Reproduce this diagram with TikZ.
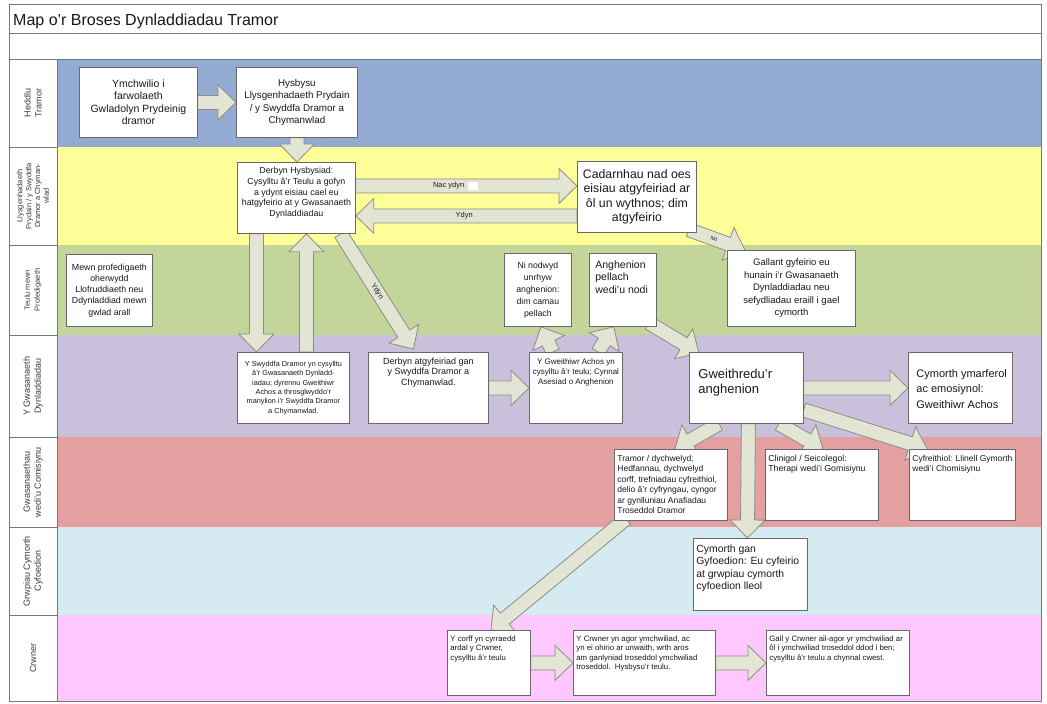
\documentclass[tikz,border=0pt]{standalone}
\usepackage{fontspec}
\setmainfont{Liberation Sans}
\usetikzlibrary{calc}
\pgfdeclarelayer{bg}
\pgfdeclarelayer{arr}
\pgfsetlayers{bg,arr,main}
\definecolor{laneblue}{RGB}{147,171,210}
\definecolor{laneyellow}{RGB}{255,255,153}
\definecolor{lanegreen}{RGB}{195,213,155}
\definecolor{lanelav}{RGB}{203,192,220}
\definecolor{lanered}{RGB}{228,160,160}
\definecolor{lanecyan}{RGB}{214,234,241}
\definecolor{lanepink}{RGB}{255,199,255}
\definecolor{framegray}{RGB}{120,120,120}
\definecolor{boxline}{RGB}{105,105,105}
\definecolor{arrfill}{RGB}{226,229,212}
\definecolor{arrline}{RGB}{140,142,128}
\definecolor{txt}{RGB}{25,25,25}
\newcommand\fs[2]{\fontsize{#1}{#2}\selectfont}
\newcommand\bt[5]{\parbox[c][#2][#3]{#1}{#4#5}}
\newcommand\barr[2]{%
  \coordinate (baS) at #1;
  \coordinate (baE) at #2;
  \coordinate (baP) at ($(baE)!18pt!(baS)$);
  \draw[blockarrow] ($(baS)!7pt!90:(baE)$) -- ($(baP)!7pt!90:(baE)$) -- ($(baP)!17.5pt!90:(baE)$) -- (baE) -- ($(baP)!17.5pt!-90:(baE)$) -- ($(baP)!7pt!-90:(baE)$) -- ($(baS)!7pt!-90:(baE)$) -- cycle;
}
\begin{document}
\begin{tikzpicture}[x=1pt,y=-1pt,
  box/.style={draw=boxline, line width=0.8pt, fill=white, inner sep=3pt, anchor=north west, text=txt},
  lanelab/.style={rotate=90, align=center, text=txt!85},
  frame/.style={draw=framegray, line width=0.8pt},
  blockarrow/.style={draw=arrline, fill=arrfill, line width=0.8pt, line join=miter},
  alab/.style={font=\fs{7.5}{8}, text=txt, inner sep=1pt}]
\useasboundingbox (0,0) rectangle (1047,704);
\begin{pgfonlayer}{bg}
\fill[white] (0,0) rectangle (1047,704);
\fill[laneblue] (57,59) rectangle (1041,147);
\fill[laneyellow] (57,147) rectangle (1041,245);
\fill[lanegreen] (57,245) rectangle (1041,335);
\fill[lanelav] (57,335) rectangle (1041,437);
\fill[lanered] (57,437) rectangle (1041,527);
\fill[lanecyan] (57,527) rectangle (1041,615);
\fill[lanepink] (57,615) rectangle (1041,701);
\draw[frame] (9,4) rectangle (1041,701);
\draw[frame] (9,33) -- (1041,33);
\draw[frame] (9,59) -- (1041,59);
\draw[frame] (57,59) -- (57,701);
\foreach \yy in {147,245,335,437,527,615} \draw[frame] (9,\yy) -- (57,\yy);
\end{pgfonlayer}

\node[anchor=base west, inner sep=0pt, font=\fs{16}{18}, text=txt] (title) at (13,25) {Map o'r Broses Dynladdiadau Tramor};

\node[lanelab, font=\fs{9}{11}] (lab1) at (33,103) {Heddlu\\Tramor};
\node[lanelab, font=\fs{7.5}{8.8}] (lab2) at (33,196) {Llysgenhadaeth\\Prydain / y Swyddfa\\Dramor a Chyman-\\wlad};
\node[lanelab, font=\fs{7.5}{10}] (lab3) at (33,290) {Teulu mewn\\Profedigaeth};
\node[lanelab, font=\fs{9}{11}] (lab4) at (33,386) {Y Gwasanaeth\\Dynladdiadau};
\node[lanelab, font=\fs{9}{11}] (lab5) at (33,482) {Gwasanaethau\\wedi'u Comisiynu};
\node[lanelab, font=\fs{9}{11}] (lab6) at (33,571) {Grwpiau Cymorth\\Cyfoedion};
\node[lanelab, font=\fs{9}{11}] (lab7) at (33,658) {Crwner};

% lane 1
\node[box, font=\fs{10.5}{12.5}] (A) at (79,67) {\bt{112pt}{64pt}{c}{\centering}{Ymchwilio i\\farwolaeth\\Gwladolyn Prydeinig\\dramor}};
\node[box, font=\fs{9.8}{12.5}] (B) at (236,67) {\bt{115pt}{64pt}{c}{\centering}{Hysbysu\\Llysgenhadaeth Prydain\\/ y Swyddfa Dramor a\\Chymanwlad}};
% lane 2
\node[box, font=\fs{8.8}{10.8}] (C) at (237,162) {\bt{112pt}{65pt}{t}{\centering\rule{0pt}{8pt}}{Derbyn Hysbysiad:\\Cysylltu â'r Teulu a gofyn\\a ydynt eisiau cael eu\\hatgyfeirio at y Gwasanaeth\\Dynladdiadau}};
\node[box, font=\fs{12.3}{14.5}] (D) at (577,161) {\bt{113pt}{65pt}{c}{\centering}{Cadarnhau nad oes\\eisiau atgyfeiriad ar\\ôl un wythnos; dim\\atgyfeirio}};
% lane 3
\node[box, font=\fs{8.8}{11.2}] (E) at (66,254) {\bt{80pt}{66pt}{c}{\centering}{Mewn profedigaeth\\oherwydd\\Llofruddiaeth neu\\Ddynladdiad mewn\\gwlad arall}};
\node[box, font=\fs{9.5}{12.5}] (F) at (727,250) {\bt{122pt}{70pt}{c}{\centering}{Gallant gyfeirio eu\\hunain i'r Gwasanaeth\\Dynladdiadau neu\\sefydliadau eraill i gael\\cymorth}};
\node[box, font=\fs{8.7}{12}] (G) at (504,253) {\bt{61pt}{67pt}{c}{\centering}{Ni nodwyd\\unrhyw\\anghenion:\\dim camau\\pellach}};
\node[box, font=\fs{10.5}{12.5}] (H) at (589,253) {\bt{61pt}{67pt}{t}{\raggedright\leftskip=3pt\rule{0pt}{12pt}}{Anghenion\\pellach\\wedi'u nodi}};
% lane 4
\node[box, font=\fs{7.3}{9.3}] (I) at (237,352) {\bt{106pt}{65pt}{c}{\centering}{Y Swyddfa Dramor yn cysylltu\\â'r Gwasanaeth Dynladd-\\iadau; dyrennu Gweithiwr\\Achos a throsglwyddo'r\\manylion i'r Swyddfa Dramor\\a Chymanwlad.}};
\node[box, font=\fs{9}{10.5}] (J) at (368,352) {\bt{114pt}{65pt}{t}{\centering\rule{0pt}{9pt}}{Derbyn atgyfeiriad gan\\y Swyddfa Dramor a\\Chymanwlad.}};
\node[box, font=\fs{8}{10}, inner xsep=1.5pt] (K) at (529,352) {\bt{90pt}{65pt}{t}{\centering\rule{0pt}{9pt}}{Y Gweithiwr Achos yn\\cysylltu â'r teulu; Cynnal\\Asesiad o Anghenion}};
\node[box, font=\fs{13}{15.5}] (L) at (689,352) {\bt{108pt}{65pt}{t}{\raggedright\leftskip=6pt\rule{0pt}{23pt}}{Gweithredu'r\\anghenion}};
\node[box, font=\fs{11}{15.5}] (M) at (908,352) {\bt{98pt}{65pt}{t}{\raggedright\leftskip=5pt\rule{0pt}{22pt}}{Cymorth ymarferol\\ac emosiynol:\\Gweithiwr Achos}};
% lane 5
\node[box, font=\fs{8.5}{10.5}] (N) at (614,449) {\bt{107pt}{65pt}{t}{\raggedright\rule{0pt}{9pt}}{Tramor / dychwelyd;\\Hedfannau, dychwelyd\\corff, trefniadau cyfreithiol,\\delio â'r cyfryngau, cyngor\\ar gynlluniau Anafiadau\\Troseddol Dramor}};
\node[box, font=\fs{8.7}{10.5}] (O) at (765,449) {\bt{107pt}{65pt}{t}{\raggedright\rule{0pt}{9pt}}{Clinigol / Seicolegol:\\Therapi wedi'i Gomisiynu}};
\node[box, font=\fs{8.5}{10.5}] (P) at (909,449) {\bt{100pt}{65pt}{t}{\raggedright\rule{0pt}{9pt}}{Cyfreithiol: Llinell Gymorth\\wedi'i Chomisiynu}};
% lane 6
\node[box, font=\fs{10.4}{12.5}] (Q) at (693,538) {\bt{108pt}{66pt}{t}{\raggedright\rule{0pt}{11pt}}{Cymorth gan\\Gyfoedion: Eu cyfeirio\\at grwpiau cymorth\\cyfoedion lleol}};
% lane 7
\node[box, font=\fs{7.8}{9.5}] (R) at (447,630) {\bt{77pt}{59pt}{t}{\raggedright\rule{0pt}{8pt}}{Y corff yn cyrraedd\\ardal y Crwner,\\cysylltu â'r teulu}};
\node[box, font=\fs{7.8}{9.5}] (S) at (573,630) {\bt{136pt}{59pt}{t}{\raggedright\rule{0pt}{8pt}}{Y Crwner yn agor ymchwiliad, ac\\yn ei ohirio ar unwaith, wrth aros\\am ganlyniad troseddol ymchwiliad\\troseddol.\ \ Hysbysu'r teulu.}};
\node[box, font=\fs{7.8}{9.5}] (T) at (766,630) {\bt{137pt}{59pt}{t}{\raggedright\rule{0pt}{8pt}}{Gall y Crwner ail-agor yr ymchwiliad ar\\ôl i ymchwiliad troseddol ddod i ben;\\cysylltu â'r teulu a chynnal cwest.}};

\begin{pgfonlayer}{arr}
\barr{(A.east)}{(B.west)}
\barr{(B.south)}{(B.south |- C.north)}
\barr{($(C.east)+(0,-12)$)}{($(D.west |- C.east)+(0,-12)$)}
\path (baS) -- (baE) node[alab, pos=0.42] (l1) {Nac ydyn};
\fill[white] ($(l1.east)+(2,-4)$) rectangle ($(l1.east)+(12,4)$);
\barr{($(D.west |- C.east)+(0,18)$)}{($(C.east)+(0,18)$)}
\path (baS) -- (baE) node[alab, pos=0.51] (l2) {Ydyn};
\barr{($(D.south east)+(-8,-3)$)}{($(F.north west)+(18,0)$)}
\path (baS) -- (baE) node[alab, sloped, font=\fs{5.5}{6}, pos=0.45] (l3) {No};
\barr{($(C.south)+(-40,0)$)}{($(I.north)+(-37,0)$)}
\barr{($(I.north)+(13,0)$)}{($(C.south)+(10,0)$)}
\barr{($(C.south east)+(-15,0)$)}{($(J.north)+(-15,-3)$)}
\path (baS) -- (baE) node[alab, sloped, pos=0.5] (l4) {Ydyn};
\barr{(J.east)}{(J.east -| K.west)}
\barr{($(K.north)+(-23,0)$)}{($(G.south)+(3,0)$)}
\barr{($(K.north)+(22,0)$)}{($(H.south)+(-9,0)$)}
\barr{($(H.south east)+(-8,-4)$)}{($(L.north west)+(10,1)$)}
\barr{(L.east)}{(L.east -| M.west)}
\barr{($(L.south west)+(30,0)$)}{($(N.north)+(4,0)$)}
\barr{($(L.south)+(2,0)$)}{($(Q.north)+(-3,0)$)}
\barr{($(L.south east)+(-25,0)$)}{($(O.north)+(1,0)$)}
\barr{($(L.east)+(0,22)$)}{($(P.north)+(-35,0)$)}
\barr{($(N.south west)+(12,-2)$)}{($(R.north)+(2,0)$)}
\barr{(R.east)}{(R.east -| S.west)}
\barr{(S.east)}{(S.east -| T.west)}
\end{pgfonlayer}
\end{tikzpicture}
\end{document}
